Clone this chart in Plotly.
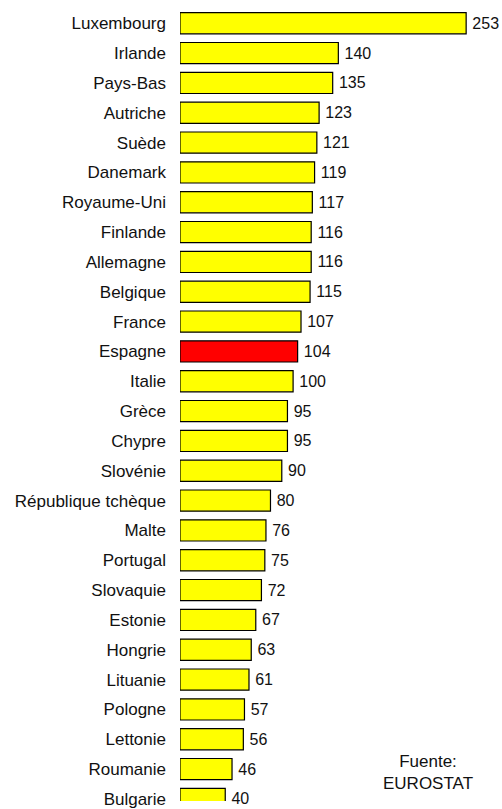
import plotly.graph_objects as go

countries = ["Luxembourg", "Irlande", "Pays-Bas", "Autriche", "Suède", "Danemark",
             "Royaume-Uni", "Finlande", "Allemagne", "Belgique", "France", "Espagne",
             "Italie", "Grèce", "Chypre", "Slovénie", "République tchèque", "Malte",
             "Portugal", "Slovaquie", "Estonie", "Hongrie", "Lituanie", "Pologne",
             "Lettonie", "Roumanie", "Bulgarie"]
values = [253, 140, 135, 123, 121, 119, 117, 116, 116, 115, 107, 104, 100, 95, 95,
          90, 80, 76, 75, 72, 67, 63, 61, 57, 56, 46, 40]
highlight = "Espagne"

colors = ["#FF0000" if c == highlight else "#FFFF00" for c in countries]

fig = go.Figure(go.Bar(
    x=values, y=countries, orientation="h",
    marker=dict(color=colors, line=dict(color="#000000", width=1.2)),
    text=["\u2009" + str(v) for v in values], textposition="outside",
    textfont=dict(family="Liberation Sans, Arial", size=16, color="#111111"),
    cliponaxis=False,
))

fig.update_layout(
    width=502, height=809, autosize=False,
    margin=dict(l=180, r=0, t=0, b=0, pad=0),
    paper_bgcolor="white", plot_bgcolor="white",
    bargap=0.29, showlegend=False,
    font=dict(family="Liberation Sans, Arial", size=16, color="#111111"),
    xaxis=dict(range=[0, 284.7], visible=False, showgrid=False, zeroline=False),
    yaxis=dict(type="category", range=[26.07, -0.78], showgrid=False, zeroline=False,
               showline=False, ticks="", ticklabelstandoff=13,
               tickfont=dict(family="Liberation Sans, Arial", size=17, color="#111111")),
    annotations=[dict(text="Fuente:<br>EUROSTAT", xref="paper", yref="paper",
                      x=0.77, y=0.036, xanchor="center", yanchor="middle",
                      showarrow=False, align="center",
                      font=dict(family="Liberation Sans, Arial", size=17, color="#111111"))],
)

fig.write_html("out.html", config={"displayModeBar": False},
               post_script="document.body.style.margin='0';document.body.style.overflow='hidden';")
